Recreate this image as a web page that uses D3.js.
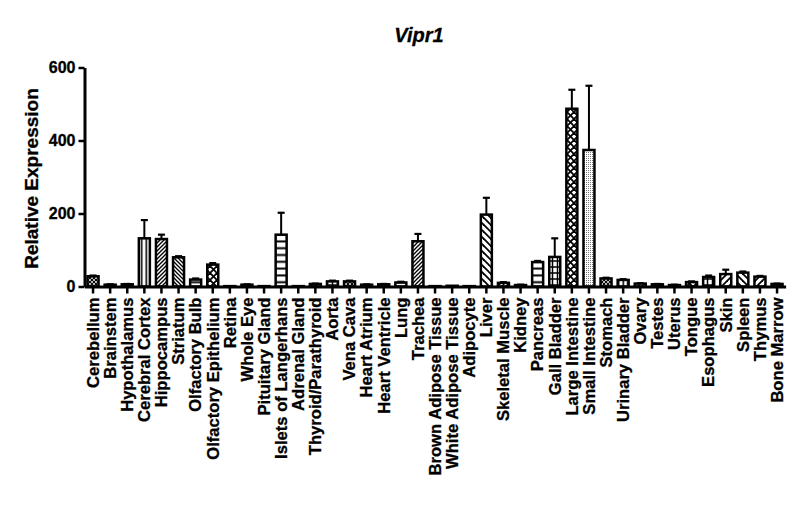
<!DOCTYPE html>
<html>
<head>
<meta charset="utf-8">
<script src="https://cdn.jsdelivr.net/npm/d3@7"></script>
<style>
body { margin: 0; background: #fff; }
text { font-family: "Liberation Sans", Arial, sans-serif; font-weight: bold; fill: #000; stroke: #000; stroke-width: 0.3px; }
</style>
</head>
<body>
<svg id="chart" width="800" height="528"></svg>
<script>
const categories = ["Cerebellum","Brainstem","Hypothalamus","Cerebral Cortex","Hippocampus","Striatum","Olfactory Bulb","Olfactory Epithelium","Retina","Whole Eye","Pituitary Gland","Islets of Langerhans","Adrenal Gland","Thyroid/Parathyroid","Aorta","Vena Cava","Heart Atrium","Heart Ventricle","Lung","Trachea","Brown Adipose Tissue","White Adipose Tissue","Adipocyte","Liver","Skeletal Muscle","Kidney","Pancreas","Gall Bladder","Large Intestine","Small Intestine","Stomach","Urinary Bladder","Ovary","Testes","Uterus","Tongue","Esophagus","Skin","Spleen","Thymus","Bone Marrow"];
const values = [28,5,6,132,130,80,19,60,1,5,1,142,1,7,14,14,5,6,11,124,1,2,1,197,10,4,67,81,487,374,22,18,8,6,4,12,26,34,38,27,7];
const errors = [2,1,1,50,12,3,3,4,0,1,0,60,0,1,2,2,1,1,2,20,0,0,0,46,2,1,3,51,52,176,2,2,1,1,1,2,4,12,3,2,1];
const yTicks = [0,200,400,600];
const title = "Vipr1";
const yLabel = "Relative Expression";
// fill pattern per category (style)
const patternOf = ["checker","grid","diamond","vert","diagR","diagL","horiz","diamond","none","dots","none","horiz","none","horiz","grid","checker","vert","diagR","horiz","diagR","none","none","none","diagLw","diagR","horiz","horiz","grid","diamond","dots","checker","vert","diagR","diagL","horiz","diamond","grid","diagRw","diagLw","diagRw","dots"];

const svg = d3.select("#chart");
const defs = svg.append("defs");
function pat(id, w, h, draw) {
  const p = defs.append("pattern").attr("id", id).attr("patternUnits", "userSpaceOnUse")
    .attr("width", w).attr("height", h);
  p.append("rect").attr("width", w).attr("height", h).attr("fill", "#fff");
  draw(p);
}
const ln = (p, x1, y1, x2, y2, sw) => p.append("line").attr("x1", x1).attr("y1", y1).attr("x2", x2).attr("y2", y2).attr("stroke", "#000").attr("stroke-width", sw);
pat("vert", 4.5, 4, p => ln(p, 2.25, 0, 2.25, 4, 1.6));
pat("horiz", 6, 6.8, p => ln(p, 0, 3.4, 6, 3.4, 2));
pat("diagR", 4, 4, p => { ln(p, 0, 4, 4, 0, 1.3); ln(p, -1, 1, 1, -1, 1.3); ln(p, 3, 5, 5, 3, 1.3); });
pat("diagL", 4, 4, p => { ln(p, 0, 0, 4, 4, 1.3); ln(p, -1, 3, 1, 5, 1.3); ln(p, 3, -1, 5, 1, 1.3); });
pat("diagRw", 7, 7, p => { ln(p, 0, 7, 7, 0, 1.8); ln(p, -1, 1, 1, -1, 1.8); ln(p, 6, 8, 8, 6, 1.8); });
pat("diagLw", 7, 7, p => { ln(p, 0, 0, 7, 7, 1.8); ln(p, -1, 6, 1, 8, 1.8); ln(p, 6, -1, 8, 1, 1.8); });
pat("diamond", 7, 7, p => { ln(p, 0, 0, 7, 7, 1.8); ln(p, 0, 7, 7, 0, 1.8); });
pat("checker", 4, 4, p => { ln(p, 0, 0, 4, 4, 1.1); ln(p, 0, 4, 4, 0, 1.1); });
pat("grid", 5, 6, p => { ln(p, 2.5, 0, 2.5, 6, 1.5); ln(p, 0, 3, 5, 3, 1.5); });
pat("dots", 2, 2, p => p.append("rect").attr("x", 0).attr("y", 0).attr("width", 0.9).attr("height", 0.9).attr("fill", "#555"));

const x = d3.scaleBand().domain(categories).range([84.5, 785.6]).paddingInner(0.2).paddingOuter(0.1);
const y = d3.scaleLinear().domain([0, 600]).range([286.5, 67.5]);

// bars
const g = svg.append("g");
const bw = 11;
// error bars
g.selectAll(".err").data(categories).join("g").each(function(c, i) {
  if (errors[i] <= 0) return;
  const cx = x(c) + x.bandwidth() / 2;
  const s = d3.select(this);
  s.append("line").attr("x1", cx).attr("x2", cx).attr("y1", y(values[i])).attr("y2", y(values[i] + errors[i]))
    .attr("stroke", "#000").attr("stroke-width", 2);
  s.append("line").attr("x1", cx - 3.5).attr("x2", cx + 3.5).attr("y1", y(values[i] + errors[i])).attr("y2", y(values[i] + errors[i]))
    .attr("stroke", "#000").attr("stroke-width", 2.2);
});
g.selectAll(".bar").data(categories).join("rect")
  .attr("x", c => x(c) + x.bandwidth() / 2 - bw / 2)
  .attr("width", bw)
  .attr("y", (c, i) => y(values[i]))
  .attr("height", (c, i) => y(0) - y(values[i]))
  .attr("fill", (c, i) => patternOf[i] === "none" ? "#fff" : `url(#${patternOf[i]})`)
  .attr("stroke", "#000").attr("stroke-width", 2.5);

// x axis
const xAxis = svg.append("g").attr("transform", `translate(0,${y(0)})`)
  .call(d3.axisBottom(x).tickSize(7).tickPadding(3).tickSizeOuter(0));
xAxis.select(".domain").attr("stroke-width", 3);
xAxis.selectAll(".tick line").attr("stroke-width", 2.5);
xAxis.selectAll(".tick text")
  .style("font-size", "16.6px")
  .attr("text-anchor", "end")
  .attr("transform", "rotate(-90)")
  .attr("x", -11).attr("y", 0).attr("dy", "0.35em");

// y axis
const yAxis = svg.append("g").attr("transform", `translate(84.5,0)`)
  .call(d3.axisLeft(y).tickValues(yTicks).tickSize(6).tickPadding(3).tickSizeOuter(0));
yAxis.select(".domain").attr("stroke-width", 3);
yAxis.selectAll(".tick line").attr("stroke-width", 2.5);
yAxis.selectAll(".tick text").style("font-size", "16px");

svg.append("text").attr("transform", "translate(38,178.5) rotate(-90)")
  .attr("text-anchor", "middle").style("font-size", "19px").text(yLabel);
svg.append("text").attr("x", 419).attr("y", 42).attr("text-anchor", "middle")
  .style("font-size", "20px").style("font-style", "italic").text(title);
</script>
</body>
</html>
